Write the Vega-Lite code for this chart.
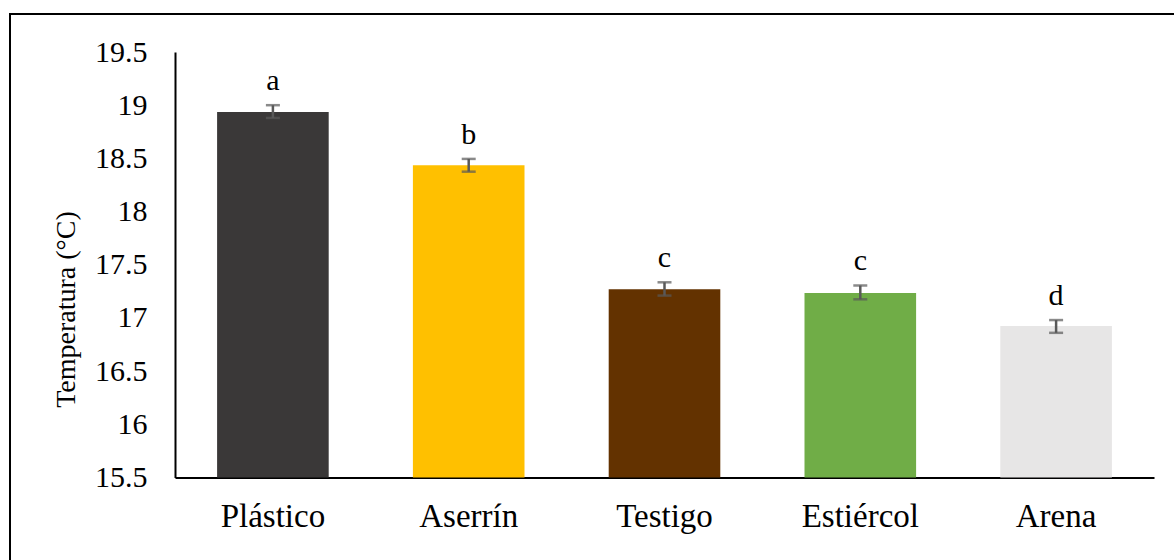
{
  "$schema": "https://vega.github.io/schema/vega-lite/v6.json",
  "autosize": {"type": "none"},
  "padding": {"left": 10, "top": 14, "right": 0, "bottom": 0},
  "width": 1170,
  "height": 560,
  "background": "white",
  "config": {
    "view": {"stroke": "black", "strokeWidth": 2},
    "font": "Liberation Serif, Times New Roman, serif"
  },
  "data": {
    "values": [
      {"cat": "Plástico", "value": 18.935, "lo": 18.88, "hi": 19.0, "letter": "a", "color": "#3a3838"},
      {"cat": "Aserrín", "value": 18.435, "lo": 18.375, "hi": 18.495, "letter": "b", "color": "#ffc000"},
      {"cat": "Testigo", "value": 17.27, "lo": 17.21, "hi": 17.335, "letter": "c", "color": "#633200"},
      {"cat": "Estiércol", "value": 17.235, "lo": 17.175, "hi": 17.305, "letter": "c", "color": "#70ad47"},
      {"cat": "Arena", "value": 16.925, "lo": 16.86, "hi": 16.98, "letter": "d", "color": "#e7e6e6"}
    ]
  },
  "encoding": {
    "x": {
      "field": "cat",
      "type": "nominal",
      "sort": null,
      "scale": {"range": [165, 1144], "paddingInner": 0.43, "paddingOuter": 0.215},
      "axis": {
        "title": null,
        "labelAngle": 0,
        "labelFont": "Liberation Serif, Times New Roman, serif",
        "labelFontSize": 33,
        "labelColor": "black",
        "labelPadding": 23,
        "ticks": false,
        "tickSize": 0,
        "domainColor": "black",
        "domainWidth": 2,
        "offset": -96.5,
        "grid": false
      }
    }
  },
  "layer": [
    {
      "mark": {"type": "bar"},
      "encoding": {
        "y": {
          "field": "value",
          "type": "quantitative",
          "scale": {"domain": [15.5, 19.5], "range": [463.5, 38], "zero": false, "nice": false},
          "axis": {
            "title": "Temperatura (°C)",
            "titleFont": "Liberation Serif, Times New Roman, serif",
            "titleFontSize": 28,
            "titleFontWeight": "normal",
            "titleColor": "black",
            "titlePadding": 14,
            "titleY": 295,
            "values": [15.5, 16, 16.5, 17, 17.5, 18, 18.5, 19, 19.5],
            "format": "~g",
            "labelFont": "Liberation Serif, Times New Roman, serif",
            "labelFontSize": 30,
            "labelColor": "black",
            "labelPadding": 28,
            "ticks": false,
            "tickSize": 0,
            "domainColor": "black",
            "domainWidth": 2,
            "offset": -165,
            "grid": false
          }
        },
        "y2": {"datum": 15.5},
        "color": {"field": "color", "type": "nominal", "scale": null, "legend": null}
      }
    },
    {
      "mark": {"type": "rule", "color": "#595959", "strokeWidth": 2.5},
      "encoding": {
        "y": {"field": "lo", "type": "quantitative"},
        "y2": {"field": "hi"}
      }
    },
    {
      "mark": {"type": "tick", "color": "#595959", "thickness": 2.5, "size": 14, "orient": "horizontal"},
      "encoding": {
        "y": {"field": "lo", "type": "quantitative"}
      }
    },
    {
      "mark": {"type": "tick", "color": "#595959", "thickness": 2.5, "size": 14, "orient": "horizontal"},
      "encoding": {
        "y": {"field": "hi", "type": "quantitative"}
      }
    },
    {
      "mark": {"type": "text", "font": "Liberation Serif, Times New Roman, serif", "fontSize": 30, "color": "black", "baseline": "alphabetic", "dy": -15},
      "encoding": {
        "y": {"field": "hi", "type": "quantitative"},
        "text": {"field": "letter"}
      }
    }
  ]
}
